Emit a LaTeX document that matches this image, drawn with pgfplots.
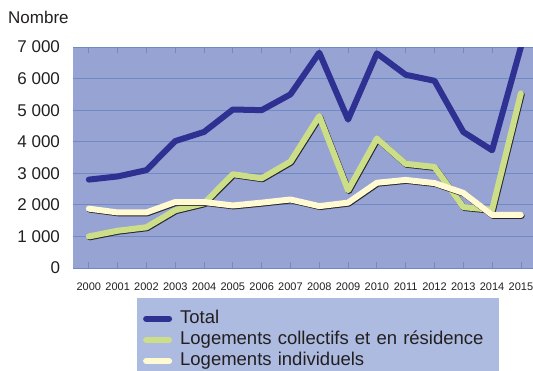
\documentclass[border=0pt]{standalone}
\usepackage{pgfplots}
\pgfplotsset{compat=1.18}
\usepackage{pgfplotstable}
\usepackage{fontspec}
\setmainfont{Liberation Sans}

\definecolor{plotbg}{HTML}{97A3D3}
\definecolor{gridblue}{HTML}{6F8BC6}
\definecolor{totalc}{HTML}{2E3192}
\definecolor{collc}{HTML}{CCDF88}
\definecolor{indc}{HTML}{FFFAD2}
\definecolor{legbg}{HTML}{ADBBE0}
\definecolor{txt}{HTML}{231F20}

% Logements commencés, 2000-2015 (index 0 = 2000)
\pgfplotstableread{
x total coll ind
0  2800 1000 1880
1  2900 1180 1760
2  3100 1290 1760
3  4020 1830 2090
4  4310 2050 2090
5  5020 2970 1980
6  5000 2840 2070
7  5500 3370 2170
8  6820 4810 1960
9  4700 2460 2070
10 6800 4100 2700
11 6120 3300 2790
12 5930 3200 2690
13 4310 1930 2380
14 3730 1840 1680
15 7000 5530 1680
}\data

\begin{document}
\begin{tikzpicture}
\useasboundingbox (0,0) rectangle (533pt,370pt);
\node[anchor=west, font=\fontsize{17}{20}\selectfont, text=txt, inner sep=0pt] at (8pt,353pt) {Nombre};
\begin{axis}[
  at={(73pt,102pt)}, anchor=south west,
  scale only axis, width=460pt, height=221pt,
  xmin=-0.55, xmax=15.42, ymin=0, ymax=7000,
  axis background/.style={fill=plotbg},
  axis line style={draw=none},
  ytick={0,1000,...,7000},
  yticklabels={0,1\ 000,2\ 000,3\ 000,4\ 000,5\ 000,6\ 000,7\ 000},
  ymajorgrids, grid style={gridblue, line width=0.8pt},
  ytick style={draw=none},
  xtick={0,...,15},
  xticklabels={2000,2001,2002,2003,2004,2005,2006,2007,2008,2009,2010,2011,2012,2013,2014,2015},
  xtick style={gridblue, line width=0.8pt},
  major tick length=6pt, tick align=inside,
  yticklabel style={font=\fontsize{17}{20}\selectfont, text=txt, xshift=-9.5pt},
  xticklabel style={font=\fontsize{11}{13}\selectfont, text=txt, yshift=-11pt},
  /pgf/number format/assume math mode=true,
  legend style={at={(0.139,-0.136)}, anchor=north west, fill=legbg, draw=none,
    font=\fontsize{18.5}{21}\selectfont, text=txt, inner xsep=6pt, inner ysep=10pt,
    row sep=0pt,
    nodes={text height=13.7pt, text depth=4.6pt, inner ysep=1.4pt, inner xsep=8pt},
    /tikz/every even column/.append style={text width=305pt}},
  legend cell align=left,
  legend image code/.code={\draw[#1, line width=6pt, line cap=round] (3pt,0pt) -- (26pt,0pt);},
  every axis plot/.append style={line join=round, line cap=round},
]
\addplot[totalc, line width=6pt] table[x=x, y=total] {\data};
\addlegendentry{Total}
\addplot[black!85, line width=6pt, forget plot, xshift=0.8pt, yshift=-0.9pt] table[x=x, y=coll] {\data};
\addplot[collc, line width=6pt] table[x=x, y=coll] {\data};
\addlegendentry{Logements collectifs et en résidence}
\addplot[black!85, line width=6pt, forget plot, xshift=0.8pt, yshift=-0.9pt] table[x=x, y=ind] {\data};
\addplot[indc, line width=6pt] table[x=x, y=ind] {\data};
\addlegendentry{Logements individuels}
\end{axis}
\end{tikzpicture}
\end{document}
